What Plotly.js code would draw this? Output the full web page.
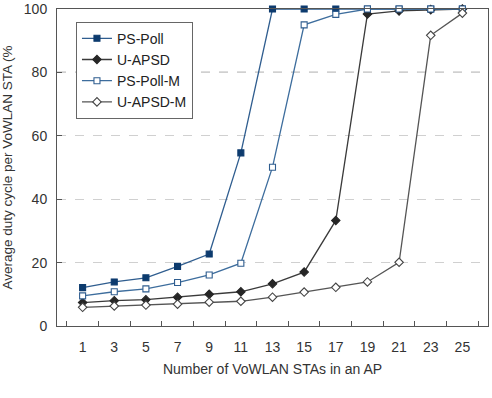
<!DOCTYPE html>
<html>
<head>
<meta charset="utf-8">
<script src="https://cdn.plot.ly/plotly-3.0.1.min.js"></script>
<style>
  html, body { margin: 0; padding: 0; background: #fff; }
  #chart { width: 492px; height: 398px; }
</style>
</head>
<body>
<div id="chart"></div>
<script>
// Number of VoWLAN stations per access point
const stations = ['1', '3', '5', '7', '9', '11', '13', '15', '17', '19', '21', '23', '25'];

// Average duty cycle (%) for each power-saving scheme
const psPoll   = [12.1, 13.9, 15.2, 18.8, 22.7, 54.6, 100, 100, 100, 100, 100, 100, 100];
const uApsd    = [7.4, 8.0, 8.3, 9.1, 10.0, 10.8, 13.3, 17.0, 33.3, 98.4, 99.4, 99.8, 100];
const psPollM  = [9.5, 10.8, 11.7, 13.7, 16.1, 19.8, 50.1, 95.0, 98.3, 100, 100, 100, 100];
const uApsdM   = [5.9, 6.3, 6.6, 6.9, 7.5, 7.8, 9.1, 10.7, 12.2, 13.9, 20.1, 91.7, 98.7];

const seriesNames = ['PS-Poll', 'U-APSD', 'PS-Poll-M', 'U-APSD-M'];
const yTicks = [0, 20, 40, 60, 80, 100];
const thresholdLevel = 80;

const font = 'Liberation Sans, Arial, sans-serif';

function series(name, y, lineColor, symbol, markerFill, markerLine, size) {
  return {
    type: 'scatter',
    mode: 'lines+markers',
    name: name,
    x: stations,
    y: y,
    line: { color: lineColor, width: 1.3 },
    marker: {
      symbol: symbol,
      size: size,
      color: markerFill,
      line: { color: markerLine, width: 1.1 }
    },
    cliponaxis: false
  };
}

const traces = [
  series(seriesNames[0], psPoll,  '#2f5d8f', 'square',  '#0d3b6e', '#0d3b6e', 6),
  series(seriesNames[1], uApsd,   '#3a3a3a', 'diamond', '#262626', '#262626', 6.5),
  series(seriesNames[2], psPollM, '#3d6d9d', 'square',  '#ffffff', '#2f5d8f', 6),
  series(seriesNames[3], uApsdM,  '#555555', 'diamond', '#ffffff', '#444444', 6.5)
];

const layout = {
  width: 492,
  height: 398,
  margin: { l: 57, r: 4, t: 9, b: 72 },
  paper_bgcolor: '#ffffff',
  plot_bgcolor: '#ffffff',
  font: { family: font, size: 14, color: '#333333' },
  showlegend: true,
  legend: {
    x: 0.044, y: 0.96, xanchor: 'left', yanchor: 'top',
    bgcolor: '#ffffff',
    bordercolor: '#666666',
    borderwidth: 1,
    font: { family: font, size: 14, color: '#222222' },
    tracegroupgap: 0
  },
  xaxis: {
    type: 'category',
    tickson: 'boundaries',
    ticks: 'inside',
    ticklen: 5,
    tickcolor: '#555555',
    ticklabelstandoff: 8,
    showline: true,
    linecolor: '#555555',
    linewidth: 1,
    mirror: true,
    showgrid: false,
    zeroline: false,
    tickfont: { family: font, size: 14, color: '#333333' },
    title: { text: 'Number of VoWLAN STAs in an AP', font: { family: font, size: 14, color: '#333333' }, standoff: 10 }
  },
  yaxis: {
    range: [0, 100],
    tickvals: yTicks,
    ticks: 'inside',
    ticklen: 5,
    tickcolor: '#555555',
    ticklabelstandoff: 6,
    showline: true,
    linecolor: '#555555',
    linewidth: 1,
    mirror: true,
    showgrid: true,
    gridcolor: '#d0d0d0',
    griddash: 'dash',
    gridwidth: 1,
    zeroline: false,
    tickfont: { family: font, size: 14, color: '#333333' },
    title: { text: 'Average duty cycle per VoWLAN STA (%', font: { family: font, size: 13.5, color: '#333333' }, standoff: 8 }
  },
  shapes: [{
    type: 'line', xref: 'paper', yref: 'y',
    x0: 0, x1: 1, y0: thresholdLevel, y1: thresholdLevel,
    line: { color: '#777777', width: 1.2, dash: 'dash' },
    layer: 'below'
  }]
};

Plotly.newPlot('chart', traces, layout, { displayModeBar: false, staticPlot: true });
</script>
</body>
</html>
